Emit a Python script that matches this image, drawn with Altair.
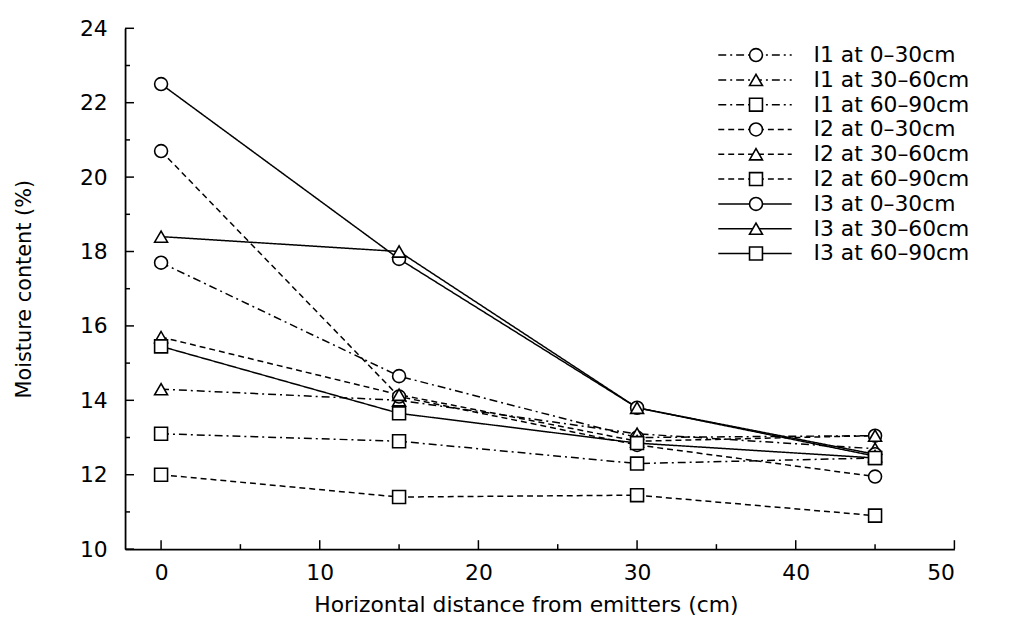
import altair as alt
import pandas as pd

# ---------------- data ----------------
distance = [0, 15, 30, 45]

series_names = [
    "I1 at 0–30cm", "I1 at 30–60cm", "I1 at 60–90cm",
    "I2 at 0–30cm", "I2 at 30–60cm", "I2 at 60–90cm",
    "I3 at 0–30cm", "I3 at 30–60cm", "I3 at 60–90cm",
]

i1_0_30 = [17.7, 14.65, 13.0, 13.05]
i1_30_60 = [14.3, 14.0, 13.1, 12.7]
i1_60_90 = [13.1, 12.9, 12.3, 12.45]
i2_0_30 = [20.7, 14.1, 12.8, 11.95]
i2_30_60 = [15.7, 14.15, 12.9, 13.05]
i2_60_90 = [12.0, 11.4, 11.45, 10.9]
i3_0_30 = [22.5, 17.8, 13.8, 12.55]
i3_30_60 = [18.4, 18.0, 13.8, 12.5]
i3_60_90 = [15.45, 13.65, 12.85, 12.45]

series_values = [i1_0_30, i1_30_60, i1_60_90,
                 i2_0_30, i2_30_60, i2_60_90,
                 i3_0_30, i3_30_60, i3_60_90]

x_major = [0, 10, 20, 30, 40, 50]
x_minor = [5, 15, 25, 35, 45]
y_major = [10, 12, 14, 16, 18, 20, 22, 24]
y_minor = [11, 13, 15, 17, 19, 21, 23]

# ---------------- styling ----------------
FONT = "DejaVu Sans"
W, H = 836, 525
dash_dot = [8, 4, 2, 4]
dashed = [6, 4]
solid = [1, 0]
dashes = [dash_dot] * 3 + [dashed] * 3 + [solid] * 3
shapes = ["circle", "triangle-up", "square"] * 3

rows = []
for name, vals in zip(series_names, series_values):
    for d, v in zip(distance, vals):
        rows.append({"series": name, "distance": d, "moisture": v})
df = pd.DataFrame(rows)

xscale = alt.Scale(domain=[-2.27, 50], nice=False, zero=False)
yscale = alt.Scale(domain=[10, 24], nice=False, zero=False)
dash_scale = alt.Scale(domain=series_names, range=dashes)
shape_scale = alt.Scale(domain=series_names, range=shapes)

x_axis = alt.Axis(
    values=x_major, title="Horizontal distance from emitters (cm)",
    ticks=False, tickSize=0, grid=False, labelPadding=14,
    labelFont=FONT, labelFontSize=22, labelColor="black",
    domainColor="black", domainWidth=1.8,
    titleFont=FONT, titleFontSize=22, titleFontWeight="normal", titleColor="black",
    titleX=404, titleY=56, titleBaseline="middle",
)
y_axis = alt.Axis(
    values=y_major, title="Moisture content (%)",
    ticks=False, tickSize=0, grid=False, labelPadding=18,
    labelFont=FONT, labelFontSize=22, labelColor="black",
    domainColor="black", domainWidth=1.8,
    titleFont=FONT, titleFontSize=21, titleFontWeight="normal", titleColor="black",
    titleX=-101, titleY=H / 2, titleBaseline="middle",
)

lines = alt.Chart(df).mark_line(color="black", strokeWidth=1.5).encode(
    x=alt.X("distance:Q", scale=xscale, axis=x_axis),
    y=alt.Y("moisture:Q", scale=yscale, axis=y_axis),
    strokeDash=alt.StrokeDash("series:N", scale=dash_scale, legend=None),
)

points = alt.Chart(df).mark_point(
    filled=True, fill="white", stroke="black", strokeWidth=1.6, size=170, opacity=1
).encode(
    x=alt.X("distance:Q", scale=xscale, axis=x_axis),
    y=alt.Y("moisture:Q", scale=yscale, axis=None),
    shape=alt.Shape("series:N", scale=shape_scale, legend=None),
)

# inward tick marks
def xticks(vals, length):
    return alt.Chart(pd.DataFrame({"distance": vals})).mark_rule(color="black", strokeWidth=1.5).encode(
        x=alt.X("distance:Q", scale=xscale, axis=x_axis),
        y=alt.value(H), y2=alt.value(H - length),
    )

def yticks(vals, length):
    return alt.Chart(pd.DataFrame({"t": vals})).mark_rule(color="black", strokeWidth=1.5).encode(
        y=alt.Y("t:Q", scale=yscale, axis=None),
        x=alt.value(0), x2=alt.value(length),
    )

# manual legend
leg_df = pd.DataFrame({"series": series_names})
ly = alt.Y("series:N", scale=alt.Scale(type="point", domain=series_names, range=[27, 227], padding=0), axis=None)

leg_rule = alt.Chart(leg_df).mark_rule(color="black", strokeWidth=1.5).encode(
    y=ly, x=alt.value(598), x2=alt.value(672),
    strokeDash=alt.StrokeDash("series:N", scale=dash_scale, legend=None),
)
leg_pt = alt.Chart(leg_df).mark_point(
    filled=True, fill="white", stroke="black", strokeWidth=1.6, size=170, opacity=1
).encode(
    y=ly, x=alt.value(636),
    shape=alt.Shape("series:N", scale=shape_scale, legend=None),
)
leg_txt = alt.Chart(leg_df).mark_text(
    align="left", baseline="middle", font=FONT, fontSize=22, color="black"
).encode(y=ly, x=alt.value(694), text="series:N")

chart = alt.layer(
    lines, points,
    xticks(x_major, 9), xticks(x_minor, 5), yticks(y_major, 9), yticks(y_minor, 5),
    leg_rule, leg_pt, leg_txt,
).resolve_scale(y="independent").properties(
    width=W, height=H,
    autosize=alt.AutoSizeParams(type="none"),
    padding={"left": 118, "top": 18, "right": 50, "bottom": 70},
    background="white",
).configure_view(stroke=None)

chart.save("out.html", embed_options={"renderer": "svg", "actions": False})
